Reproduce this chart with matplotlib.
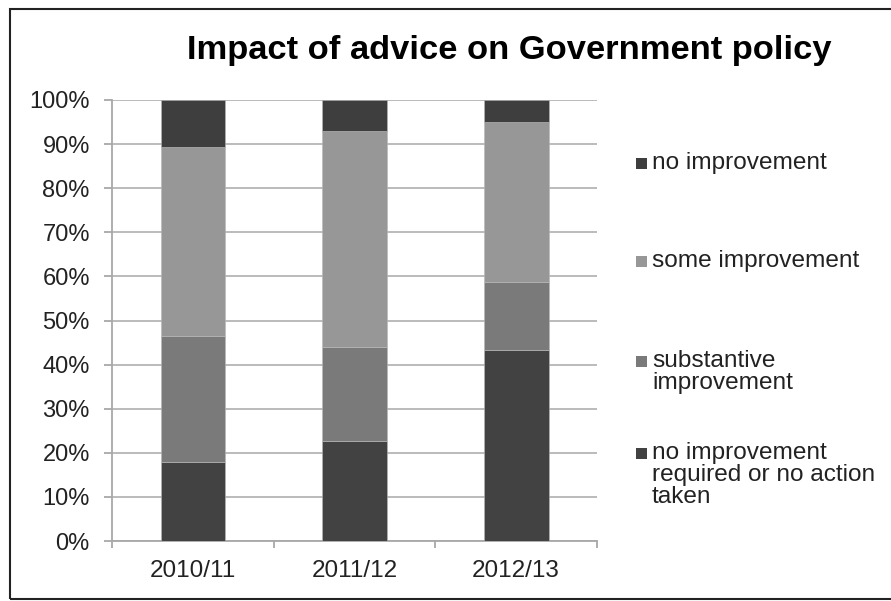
import matplotlib
matplotlib.use("Agg")
import matplotlib.pyplot as plt
from matplotlib.patches import Rectangle
from matplotlib.ticker import PercentFormatter, FixedLocator
import numpy as np

plt.rcParams['font.family'] = ['Liberation Sans', 'DejaVu Sans']

# Survey years and share of advice by outcome (percent of cases)
years = ["2010/11", "2011/12", "2012/13"]
no_action = [18.0, 22.7, 43.2]
substantive = [28.5, 21.4, 15.6]
some = [42.9, 48.9, 36.2]
none = [10.6, 7.0, 5.0]

series_names = ["no improvement required or no action taken",
                "substantive improvement",
                "some improvement",
                "no improvement"]
legend_labels = ["no improvement\nrequired or no action\ntaken",
                 "substantive\nimprovement",
                 "some improvement",
                 "no improvement"]
series_values = [no_action, substantive, some, none]
colors = ["#424242", "#7a7a7a", "#979797", "#3e3e3e"]

fig = plt.figure(figsize=(8.91, 6.01), dpi=100)
ax = fig.add_axes([112 / 891, 1 - 541 / 601, (597 - 112) / 891, (541 - 100) / 601])

x = np.arange(len(years))
bottom = np.zeros(len(years))
for vals, col, name in zip(series_values, colors, series_names):
    ax.bar(x, vals, width=0.4, bottom=bottom, color=col, label=name,
           zorder=3, edgecolor="#b8b8b8", linewidth=0.4)
    bottom += np.array(vals)

ax.set_xlim(-0.5, len(years) - 0.5)
ax.set_ylim(0, 100)
ax.yaxis.set_major_locator(FixedLocator(np.arange(0, 101, 10)))
ax.yaxis.set_major_formatter(PercentFormatter(decimals=0))
ax.set_xticks(x)
ax.set_xticklabels(years)
ax.xaxis.set_minor_locator(FixedLocator(np.arange(-0.5, len(years), 1.0)))

ax.grid(axis="y", color="#b5b5b5", linewidth=1.3, zorder=0)
for s in ["top", "right"]:
    ax.spines[s].set_visible(False)
ax.spines["left"].set_color("#a8a8a8")
ax.spines["bottom"].set_color("#a8a8a8")
ax.spines["left"].set_linewidth(1.3)
ax.spines["bottom"].set_linewidth(1.3)

ax.tick_params(axis="y", length=6, width=1.3, color="#a8a8a8", pad=10,
               labelsize=17, labelcolor="#222222")
ax.tick_params(axis="x", which="major", length=0, pad=14,
               labelsize=17.5, labelcolor="#222222")
ax.tick_params(axis="x", which="minor", length=5, width=1.3, color="#a8a8a8")

fig.text(509 / 891, 1 - 50 / 601, "Impact of advice on Government policy",
         ha="center", va="center", fontsize=24.8, fontweight="bold", color="#000000")

# Legend drawn as squares with text, listed from top of stack downward
legend_tops = [152, 250, 350, 442]
order = [3, 2, 1, 0]
for top_px, idx in zip(legend_tops, order):
    fig.patches.append(Rectangle((636 / 891, 1 - (top_px + 17) / 601), 11 / 891, 11 / 601,
                                 transform=fig.transFigure, facecolor=colors[idx],
                                 edgecolor="none"))
    fig.text(652 / 891, 1 - top_px / 601, legend_labels[idx], ha="left", va="top",
             fontsize=17.6, color="#222222", linespacing=1.0)

# Outer frame
fig.patches.append(Rectangle((10 / 891, 2 / 601), 900 / 891, 590 / 601,
                             transform=fig.transFigure, facecolor="none",
                             edgecolor="#222222", linewidth=1.5))

fig.savefig("out.png", dpi=100)
